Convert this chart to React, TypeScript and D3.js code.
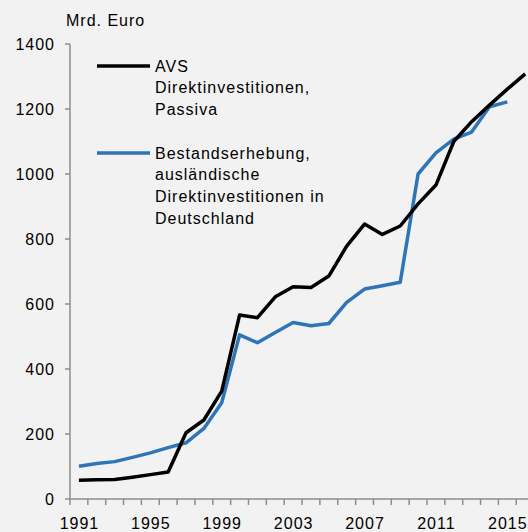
import * as d3 from "d3";
import React, { useEffect, useRef } from "react";

// values in Mrd. Euro
const years = d3.range(1991, 2017);
const avsPassiva = [
  58, 59, 60, 67, 75, 83, 204, 243, 332, 566, 558, 622, 653, 651, 686, 778,
  846, 814, 840, 908, 966, 1100, 1161, 1212, 1261, 1308,
];
const bestandserhebung = [
  101, 109, 115, 128, 142, 158, 173, 217, 296, 505, 481, 512, 543, 533, 540,
  605, 646, 656, 667, 1000, 1065, 1107, 1129, 1207, 1222,
];
const yTicks = [0, 200, 400, 600, 800, 1000, 1200, 1400];
const xTickLabels = [1991, 1995, 1999, 2003, 2007, 2011, 2015];

const legendAvs = ["AVS", "Direktinvestitionen,", "Passiva"];
const legendBestand = [
  "Bestandserhebung,",
  "ausländische",
  "Direktinvestitionen in",
  "Deutschland",
];

function App() {
  const ref = useRef<SVGSVGElement>(null);

  useEffect(() => {
    const width = 528;
    const height = 532;
    const svg = d3.select(ref.current);
    svg.selectAll("*").remove();

    const font = "'Liberation Sans', Arial, sans-serif";
    const axisColor = "#8c8c8c";

    // shared text style
    const styleText = (sel: any) =>
      sel
        .style("font-family", font)
        .style("font-size", "16px")
        .style("letter-spacing", "1px")
        .attr("fill", "#000");

    svg
      .append("rect")
      .attr("width", width)
      .attr("height", height)
      .attr("fill", "#f2f2f2");

    const x = d3
      .scaleBand<number>()
      .domain(years)
      .range([70, 70 + years.length * 17.85])
      .padding(0);
    const y = d3.scaleLinear().domain([0, 1400]).range([499, 44]);
    const cx = (yr: number) => (x(yr) as number) + x.bandwidth() / 2;

    // y axis
    svg
      .append("line")
      .attr("x1", 70)
      .attr("x2", 70)
      .attr("y1", y(1400))
      .attr("y2", y(0))
      .attr("stroke", axisColor)
      .attr("stroke-width", 1.5);
    yTicks.forEach((t) => {
      svg
        .append("line")
        .attr("x1", 65)
        .attr("x2", 70)
        .attr("y1", y(t))
        .attr("y2", y(t))
        .attr("stroke", axisColor)
        .attr("stroke-width", 1.5);
      svg
        .append("text")
        .attr("x", 55)
        .attr("y", y(t) + 5.8)
        .attr("text-anchor", "end")
        .call(styleText)
        .text(t);
    });

    // x axis
    svg
      .append("line")
      .attr("x1", 70)
      .attr("x2", width)
      .attr("y1", y(0))
      .attr("y2", y(0))
      .attr("stroke", axisColor)
      .attr("stroke-width", 1.5);
    years.forEach((yr) => {
      const xx = x(yr) as number;
      svg
        .append("line")
        .attr("x1", xx)
        .attr("x2", xx)
        .attr("y1", y(0))
        .attr("y2", y(0) + 6)
        .attr("stroke", axisColor)
        .attr("stroke-width", 1.5);
    });
    xTickLabels.forEach((yr) => {
      svg
        .append("text")
        .attr("x", cx(yr) + 0.5)
        .attr("y", 529)
        .attr("text-anchor", "middle")
        .call(styleText)
        .text(yr);
    });

    svg
      .append("text")
      .attr("x", 66)
      .attr("y", 26)
      .call(styleText)
      .text("Mrd. Euro");

    const line = d3
      .line<number>()
      .x((_, i) => cx(years[i]))
      .y((d) => y(d));

    svg
      .append("path")
      .attr("d", line(bestandserhebung))
      .attr("fill", "none")
      .attr("stroke", "#2e75b6")
      .attr("stroke-width", 3.5)
      .attr("stroke-linejoin", "round");

    svg
      .append("path")
      .attr("d", line(avsPassiva))
      .attr("fill", "none")
      .attr("stroke", "#000")
      .attr("stroke-width", 3.5)
      .attr("stroke-linejoin", "round");

    // legend
    const legend = [
      { color: "#000", lines: legendAvs, y: 66 },
      { color: "#2e75b6", lines: legendBestand, y: 153 },
    ];
    legend.forEach((item) => {
      svg
        .append("line")
        .attr("x1", 97)
        .attr("x2", 150)
        .attr("y1", item.y)
        .attr("y2", item.y)
        .attr("stroke", item.color)
        .attr("stroke-width", 3.5);
      const txt = svg.append("text").call(styleText);
      item.lines.forEach((l, i) => {
        txt
          .append("tspan")
          .attr("x", 155)
          .attr("y", item.y + 5.8 + i * 21.6)
          .text(l);
      });
    });
  }, []);

  return (
    <svg
      ref={ref}
      width={528}
      height={532}
      style={{ position: "absolute", left: 0, top: 0, display: "block" }}
    />
  );
}

export default App;
